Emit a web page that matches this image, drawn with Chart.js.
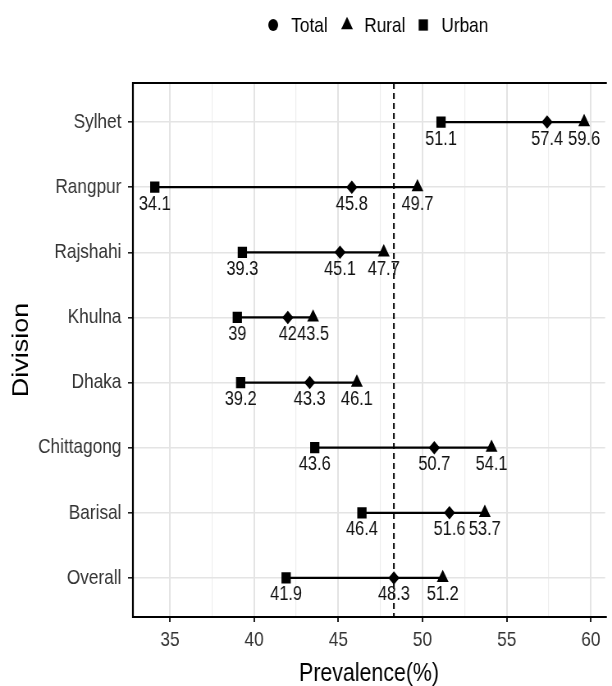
<!doctype html>
<html lang="en">
  <head>
    <meta charset="utf-8">
    <title>Prevalence by division</title>
    <style>
      * { margin: 0; padding: 0; }
      body { background: white; overflow: hidden; }
      /* the reference is a horizontally squeezed export: draw wide, show at 612px */
      #myChart { display: block; width: 612px; height: 686px; }
    </style>
  </head>
  <body>
    <canvas id="myChart" width="746" height="686" style="width:612px;height:686px"></canvas>
    <script src="https://cdn.jsdelivr.net/npm/chart.js/dist/chart.umd.min.js"></script>
    <script>
    // data
    const divisions = ['Sylhet', 'Rangpur', 'Rajshahi', 'Khulna', 'Dhaka', 'Chittagong', 'Barisal', 'Overall'];
    const total = [57.4, 45.8, 45.1, 42, 43.3, 50.7, 51.6, 48.3];
    const rural = [59.6, 49.7, 47.7, 43.5, 46.1, 54.1, 53.7, 51.2];
    const urban = [51.1, 34.1, 39.3, 39, 39.2, 43.6, 46.4, 41.9];
    const seriesNames = ['Total', 'Rural', 'Urban'];
    const refValue = total[divisions.indexOf('Overall')];  // dashed line

    const FONT = "'Liberation Sans', Arial, sans-serif";
    const shapes = { Total: 'rectRot', Rural: 'triangle', Urban: 'rect' };
    const sizes = { Total: 6.8, Rural: 8.3, Urban: 8 };

    const toPoints = (arr) => arr.map((v, i) => ({ x: v, y: i + 1 }));

    const markerSets = [total, rural, urban].map((arr, k) => ({
      label: seriesNames[k],
      data: toPoints(arr),
      pointStyle: shapes[seriesNames[k]],
      pointRadius: sizes[seriesNames[k]],
      pointHoverRadius: sizes[seriesNames[k]],
      pointBackgroundColor: '#000',
      pointBorderWidth: 0,
      order: 0,
    }));

    // one black segment per division, min to max
    const segmentSets = divisions.map((d, i) => {
      const vals = [total[i], rural[i], urban[i]];
      return {
        label: d,
        data: [{ x: Math.min(...vals), y: i + 1 }, { x: Math.max(...vals), y: i + 1 }],
        showLine: true,
        borderColor: '#000',
        borderWidth: 2.2,
        pointRadius: 0,
        order: 1,
      };
    });

    // dashed reference line
    const refLine = {
      id: 'refLine',
      beforeDatasetsDraw(chart) {
        const { ctx, chartArea: { top, bottom }, scales: { x } } = chart;
        const px = x.getPixelForValue(refValue);
        ctx.save();
        ctx.beginPath();
        ctx.lineWidth = 2;
        ctx.strokeStyle = '#000';
        ctx.setLineDash([6, 4]);
        ctx.moveTo(px, top);
        ctx.lineTo(px, bottom);
        ctx.stroke();
        ctx.restore();
      }
    };

    // value labels under each marker
    const valueLabels = {
      id: 'valueLabels',
      afterDatasetsDraw(chart) {
        const { ctx, scales: { x, y } } = chart;
        ctx.save();
        ctx.font = '20px ' + FONT;
        ctx.fillStyle = '#111';
        ctx.textAlign = 'center';
        ctx.textBaseline = 'middle';
        [total, rural, urban].forEach((arr) => {
          arr.forEach((v, i) => {
            ctx.fillText(String(v), x.getPixelForValue(v), y.getPixelForValue(i + 1) + 17);
          });
        });
        ctx.restore();
      }
    };

    // panel frame (top, left, bottom)
    const frame = {
      id: 'frame',
      afterDraw(chart) {
        const { ctx, chartArea: { top, bottom, left, right } } = chart;
        ctx.save();
        ctx.strokeStyle = '#000';
        ctx.lineWidth = 2.2;
        ctx.beginPath();
        ctx.moveTo(right + 2, top);
        ctx.lineTo(left, top);
        ctx.lineTo(left, bottom);
        ctx.lineTo(right + 2, bottom);
        ctx.stroke();
        ctx.restore();
      }
    };

    // legend on top
    const topLegend = {
      id: 'topLegend',
      afterDraw(chart) {
        const { ctx } = chart;
        const items = [
          { name: 'Total', style: 'circle', r: 6, mx: 333, tx: 355 },
          { name: 'Rural', style: 'triangle', r: 8.3, mx: 423, tx: 444 },
          { name: 'Urban', style: 'rect', r: 8, mx: 516, tx: 538 },
        ];
        ctx.save();
        ctx.fillStyle = '#000';
        ctx.font = '21px ' + FONT;
        ctx.textBaseline = 'middle';
        ctx.textAlign = 'left';
        items.forEach((it) => {
          Chart.helpers.drawPoint(ctx, { pointStyle: it.style, radius: it.r, rotation: 0, borderWidth: 0 }, it.mx, 25);
          ctx.fillText(it.name, it.tx, 26);
        });
        ctx.restore();
      }
    };

    const config = {
      type: 'scatter',
      data: { datasets: [...markerSets, ...segmentSets] },
      options: {
        responsive: false,
        devicePixelRatio: 1,
        animation: false,
        layout: { padding: { top: 83, left: 0, right: 0, bottom: 0 } },
        scales: {
          x: {
            type: 'linear',
            min: 32.8,
            max: 60.85,
            afterFit: (scale) => { scale.height = 69; },
            ticks: {
              stepSize: 2.5,
              includeBounds: false,
              autoSkip: false,
              maxRotation: 0,
              padding: 6,
              color: '#333',
              font: { family: FONT, size: 21 },
              callback: (v) => (v % 5 === 0 ? String(v) : ''),
            },
            grid: {
              color: (c) => (c.tick && c.tick.value % 5 === 0 ? '#e4e4e4' : '#eeeeee'),
              lineWidth: (c) => (c.tick && c.tick.value % 5 === 0 ? 2 : 1.2),
              tickColor: (c) => (c.tick && c.tick.value % 5 === 0 ? '#222' : 'rgba(0,0,0,0)'),
              tickWidth: 2,
              tickLength: 5,
            },
            border: { display: false },
            title: {
              display: true,
              text: 'Prevalence(%)',
              color: '#000',
              font: { family: FONT, size: 26 },
              padding: { top: 0, bottom: -3 },
            },
          },
          y: {
            type: 'linear',
            reverse: true,
            min: 0.4,
            max: 8.6,
            afterFit: (scale) => { scale.width = 162; },
            ticks: {
              stepSize: 1,
              includeBounds: false,
              autoSkip: false,
              padding: 8,
              color: '#333',
              font: { family: FONT, size: 21 },
              callback: (v) => divisions[v - 1] || '',
            },
            grid: {
              color: '#e4e4e4',
              lineWidth: 1.6,
              tickColor: '#222',
              tickWidth: 1.6,
              tickLength: 6,
            },
            border: { display: false },
            title: {
              display: true,
              text: 'Division',
              color: '#000',
              font: { family: FONT, size: 27 },
              padding: { top: 10, bottom: 0 },
            },
          },
        },
        plugins: {
          legend: { display: false },
          tooltip: { enabled: false },
        },
      },
      plugins: [refLine, valueLabels, frame, topLegend],
    };

    const myChart = new Chart(document.getElementById('myChart'), config);
    </script>
  </body>
</html>
